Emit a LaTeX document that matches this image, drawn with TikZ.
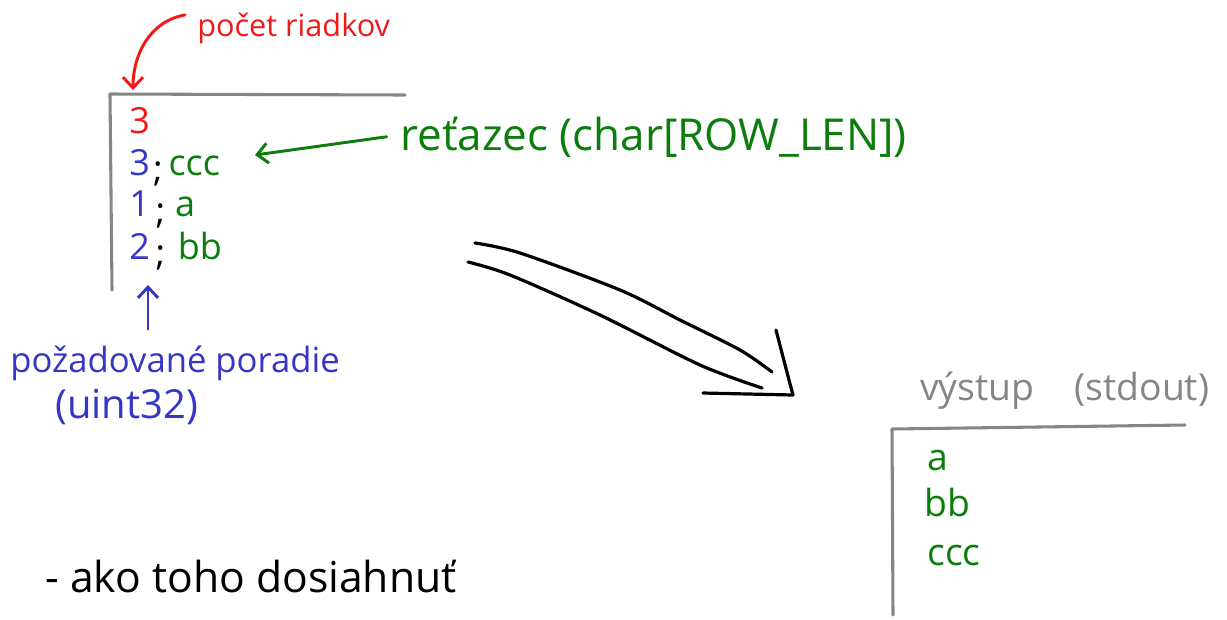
\documentclass[tikz,border=0pt]{standalone}
\usepackage{fontspec}
\setmainfont{Open Sans}
\usepackage{tikz}
\usetikzlibrary{arrows.meta, positioning}
\definecolor{inkred}{HTML}{F21818}
\definecolor{inkblue}{HTML}{3535C8}
\definecolor{inkgreen}{HTML}{0B7D0B}
\definecolor{inkgray}{HTML}{858585}
\tikzstyle{word} = [inner sep=0pt, anchor=base west, font=\fontsize{27}{32}\selectfont]
\tikzstyle{redword} = [word, text=inkred]
\tikzstyle{blueword} = [word, text=inkblue]
\tikzstyle{greenword} = [word, text=inkgreen]
\tikzstyle{grayword} = [word, text=inkgray]
\tikzstyle{semi} = [word, text=black, yshift=-5pt]
\tikzstyle{table} = [inkgray, line width=2.3pt, line cap=round, line join=round]
\tikzstyle{arrow} = [line width=2.2pt, line cap=round, ->, >={Straight Barb[length=8pt, width=15pt]}]
\tikzstyle{stroke} = [line width=2.4pt, line cap=round, line join=round]
\begin{document}
\begin{tikzpicture}[x=0.75pt, y=-0.75pt, node distance=31.5pt]
	\useasboundingbox (0,0) rectangle (1227,619);
	% input table
	\draw [table] (405,95) -- (110,94) -- (112,290);
	\node (cnt) [redword, font=\fontsize{23}{28}\selectfont] at (197,36) {počet riadkov};
	\node (n) [redword] at (129,133) {3};
	\node (o1) [blueword, below of=n, anchor=center] {3};
	\node (o2) [blueword, below of=o1, anchor=center] {1};
	\node (o3) [blueword, below of=o2, anchor=center] {2};
	\node (s1) [semi, base right=2pt of o1] {;};
	\node (s2) [semi, base right=4pt of o2] {;};
	\node (s3) [semi, base right=4pt of o3] {;};
	\node (v1) [greenword, base right=4pt of s1, yshift=5pt] {ccc};
	\node (v2) [greenword, base right=7pt of s2, yshift=5pt] {a};
	\node (v3) [greenword, base right=9pt of s3, yshift=5pt] {bb};
	\node (ret) [greenword, font=\fontsize{33}{38}\selectfont] at (400,150) {reťazec (char[ROW\_LEN])};
	\node (ord) [blueword, font=\fontsize{26}{30}\selectfont] at (10,372) {požadované poradie};
	\node (typ) [blueword, font=\fontsize{30}{34}\selectfont] at (55,418) {(uint32)};
	\coordinate (nTop) at (133,90);
	\coordinate (cccTip) at (255,155);
	\coordinate (ordTip) at (148,285);
	\draw [arrow, inkred] ([shift={(-12,-13)}]cnt.west) to[out=190, in=90] (nTop);
	\draw [arrow, inkgreen] ([xshift=-10pt]ret.west) -- (cccTip);
	\draw [arrow, inkblue] ([yshift=12pt]ord.north -| ordTip) -- (ordTip);
	% big arrow
	\draw [stroke] plot[smooth] coordinates {(475,243) (520,253) (620,290) (680,320) (740,350) (772,372)};
	\draw [stroke] plot[smooth] coordinates {(468,262) (510,275) (600,315) (700,365) (762,388)};
	\draw [stroke] (776,330) -- (789,380) -- (793,395) -- (703,393);
	% output table
	\node (out) [grayword, font=\fontsize{28}{32}\selectfont] at (920,400) {výstup\hspace{30pt}(stdout)};
	\draw [table] (1185,425) -- (892,429) -- (893,615);
	\node (r1) [greenword, font=\fontsize{28}{32}\selectfont] at (927,470) {a};
	\node (r2) [greenword, font=\fontsize{28}{32}\selectfont] at (924,516) {bb};
	\node (r3) [greenword, font=\fontsize{28}{32}\selectfont] at (927,565) {ccc};
	\node (how) [word, font=\fontsize{32}{36}\selectfont] at (45,592) {- ako toho dosiahnuť};
\end{tikzpicture}
\end{document}
